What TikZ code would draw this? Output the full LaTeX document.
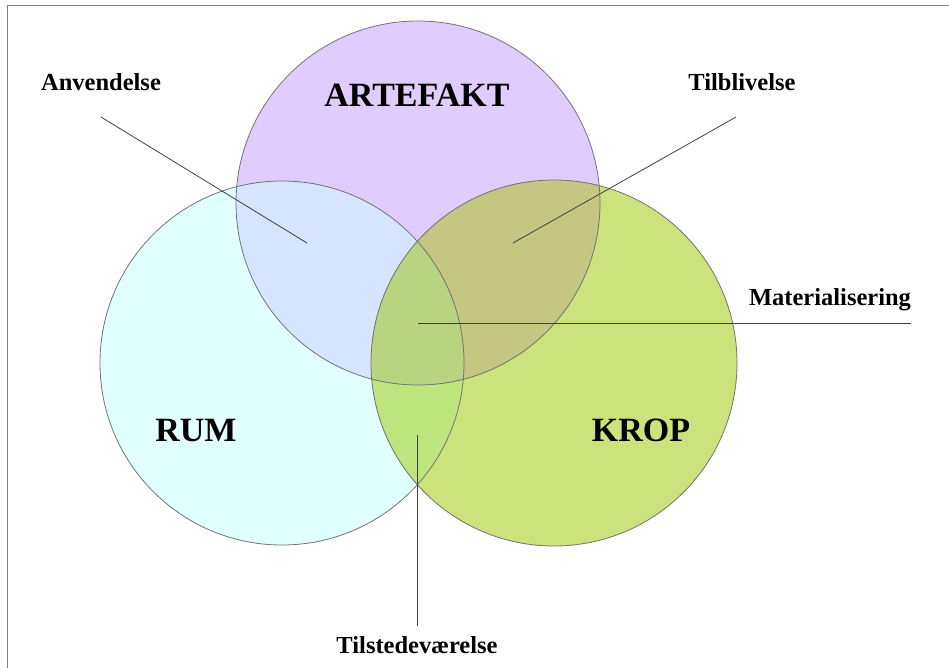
\documentclass[tikz,border=0pt]{standalone}
\usepackage{fontspec}
\setmainfont{Liberation Serif}
\definecolor{artcol}{RGB}{224,204,255}
\definecolor{rumcol}{RGB}{224,255,255}
\definecolor{kropcol}{RGB}{204,226,124}
\definecolor{artrumcol}{RGB}{214,228,255}
\definecolor{artkropcol}{RGB}{196,198,130}
\definecolor{rumkropcol}{RGB}{190,228,125}
\definecolor{allcol}{RGB}{184,212,128}
\begin{document}
\begin{tikzpicture}[x=1pt, y=-1pt,
    small/.style={font=\bfseries\fontsize{24.5}{28}\selectfont, inner sep=0pt, anchor=base},
    big/.style={font=\bfseries\fontsize{34}{40}\selectfont, inner sep=0pt, anchor=base},
    pointer/.style={draw=black!75, line width=0.8pt},
    ring/.style={draw=black!55, line width=0.8pt}]
    \useasboundingbox (0,0) rectangle (949,668);
    \draw[black!50, line width=1.5pt] (7.5,668) -- (7.5,5.5) -- (949,5.5);

    \coordinate (art) at (418,203);
    \coordinate (rum) at (282,363);
    \coordinate (krop) at (554,363);

    % circles and overlaps
    \fill[artcol] (art) circle[radius=182];
    \fill[rumcol] (rum) circle[radius=182];
    \fill[kropcol] (krop) circle[radius=183];
    \begin{scope}
        \clip (art) circle[radius=182];
        \fill[artrumcol] (rum) circle[radius=182];
        \fill[artkropcol] (krop) circle[radius=183];
    \end{scope}
    \begin{scope}
        \clip (rum) circle[radius=182];
        \fill[rumkropcol] (krop) circle[radius=183];
    \end{scope}
    \begin{scope}
        \clip (art) circle[radius=182];
        \clip (rum) circle[radius=182];
        \fill[allcol] (krop) circle[radius=183];
    \end{scope}
    \draw[ring] (art) circle[radius=182];
    \draw[ring] (rum) circle[radius=182];
    \draw[ring] (krop) circle[radius=183];

    \node[big] (artefakt) at (417,107) {ARTEFAKT};
    \node[big] (rumtext) at (196,441) {RUM};
    \node[big] (kroptext) at (641,441) {KROP};

    \node[small] (anv) at (101,91) {Anvendelse};
    \node[small] (tilb) at (742,91) {Tilblivelse};
    \node[small] (mat) at (830,305) {Materialisering};
    \node[small] (tils) at (417,653) {Tilstedeværelse};

    \coordinate (anvtip) at (307,243);
    \coordinate (tilbtip) at (513,243);
    \coordinate (mattip) at (418,323);
    \coordinate (tilstip) at (417,435);

    \draw[pointer] ([yshift=-26pt]anv.base) -- (anvtip);
    \draw[pointer] ([xshift=-6pt,yshift=-26pt]tilb.base) -- (tilbtip);
    \draw[pointer] ([yshift=-18pt]mat.base east) -- (mattip);
    \draw[pointer] ([yshift=10pt]tils.north) -- (tilstip);
\end{tikzpicture}
\end{document}
